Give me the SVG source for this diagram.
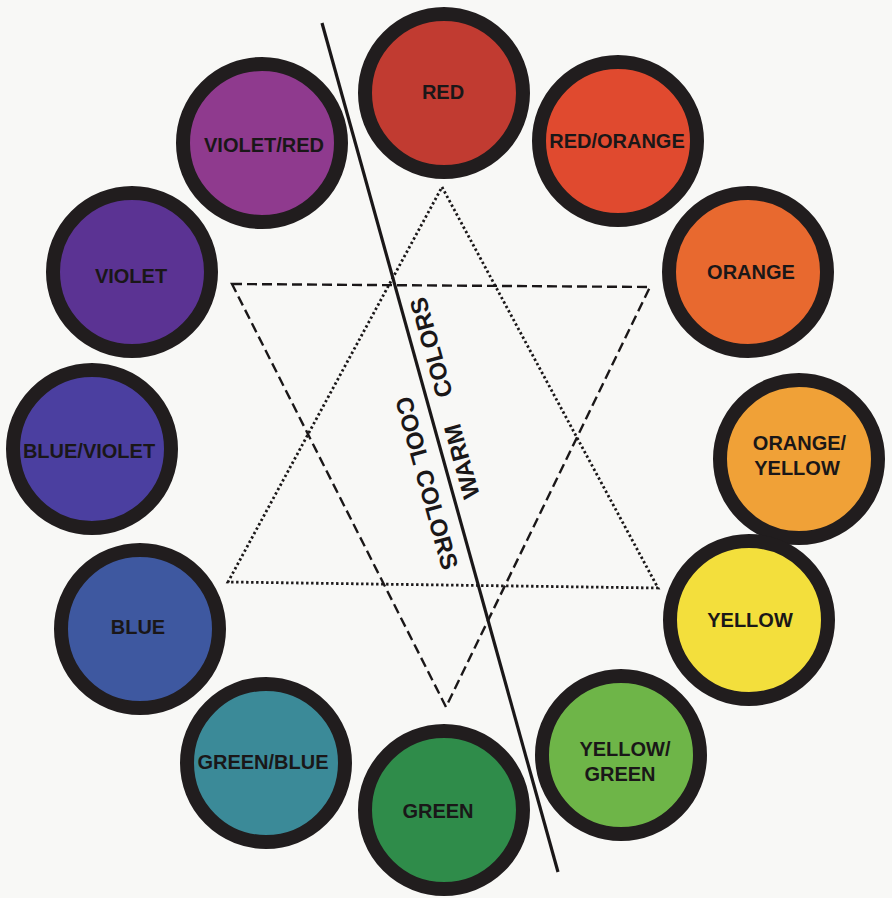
<svg xmlns="http://www.w3.org/2000/svg" width="892" height="898" viewBox="0 0 892 898">
<style>
.ring{stroke:#211d1e;stroke-width:14}
.lbl{font-family:"Liberation Sans",Arial,sans-serif;font-weight:bold;font-size:20px;fill:#1a1718;text-anchor:middle}
.big{font-family:"Liberation Sans",Arial,sans-serif;font-weight:bold;font-size:24px;fill:#1a1718;text-anchor:middle}
.dash{fill:none;stroke:#1a1718;stroke-width:2.4;stroke-dasharray:10 5}
.dot{fill:none;stroke:#1a1718;stroke-width:2.8;stroke-dasharray:2.4 2.6}
.divider{stroke:#1a1718;stroke-width:3.2}
</style>
<rect width="892" height="898" fill="#f8f8f6"/>
<g id="connectors">
<polygon class="dash" points="232,284 650,287 446,707"/>
<polygon class="dot" points="442,187 658,588 228,582"/>
<line class="divider" x1="322" y1="23" x2="558" y2="872"/>
</g>
<g id="divider-labels">
<text class="big" transform="translate(427,483) rotate(74.5)" y="8.6">COOL COLORS</text>
<text class="big" transform="translate(461.5,461.5) rotate(-105.5)" y="8.6">WARM</text>
<text class="big" transform="translate(431,347.5) rotate(-105.5)" y="8.6">COLORS</text>
</g>
<g id="red"><circle class="ring" cx="444" cy="93" r="79" fill="#c13b31"/><text class="lbl" x="443" y="99.2">RED</text></g>
<g id="red-orange"><circle class="ring" cx="618" cy="141" r="79" fill="#e04a2f"/><text class="lbl" x="617" y="148.2">RED/ORANGE</text></g>
<g id="orange"><circle class="ring" cx="748" cy="272" r="79" fill="#e8692f"/><text class="lbl" x="751" y="279.2">ORANGE</text></g>
<g id="orange-yellow"><circle class="ring" cx="799" cy="459" r="79" fill="#f0a137"/><text class="lbl" x="799.5" y="449.7">ORANGE/</text><text class="lbl" x="797" y="474.7">YELLOW</text></g>
<g id="yellow"><circle class="ring" cx="749" cy="620" r="79" fill="#f3df3c"/><text class="lbl" x="750" y="627.2">YELLOW</text></g>
<g id="yellow-green"><circle class="ring" cx="621" cy="755" r="79" fill="#6eb548"/><text class="lbl" x="625" y="755.7">YELLOW/</text><text class="lbl" x="620" y="780.7">GREEN</text></g>
<g id="green"><circle class="ring" cx="444" cy="810" r="79" fill="#2f8c4a"/><text class="lbl" x="438" y="818.2">GREEN</text></g>
<g id="green-blue"><circle class="ring" cx="266" cy="763" r="79" fill="#3b8a98"/><text class="lbl" x="263" y="768.7">GREEN/BLUE</text></g>
<g id="blue"><circle class="ring" cx="140" cy="629" r="79" fill="#3e58a0"/><text class="lbl" x="138" y="634.2">BLUE</text></g>
<g id="blue-violet"><circle class="ring" cx="92" cy="449" r="79" fill="#4b3fa0"/><text class="lbl" x="89" y="457.7">BLUE/VIOLET</text></g>
<g id="violet"><circle class="ring" cx="132" cy="272" r="79" fill="#5b3393"/><text class="lbl" x="131" y="282.7">VIOLET</text></g>
<g id="violet-red"><circle class="ring" cx="262" cy="143" r="79" fill="#8f3a8e"/><text class="lbl" x="264" y="151.7">VIOLET/RED</text></g>
</svg>
